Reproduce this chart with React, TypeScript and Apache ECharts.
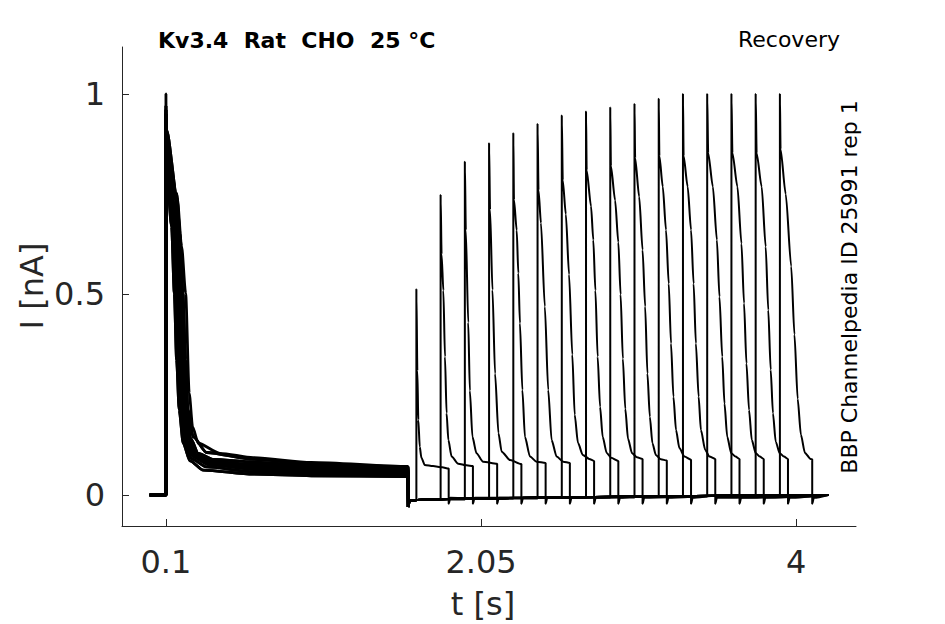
import React, { useEffect, useRef } from "react";
import * as echarts from "echarts";

// ---- data ----
const xTicks = [0.1, 2.05, 4];
const yTicks = [0, 0.5, 1];

// second (test) pulse onset times [s] and normalised peak currents, one per sweep
const testStarts = [1.65, 1.8, 1.95, 2.1, 2.25, 2.4, 2.55, 2.7, 2.85, 3.0, 3.15, 3.3, 3.45, 3.6, 3.75, 3.9];
const testPeaks = [0.513, 0.748, 0.831, 0.877, 0.902, 0.925, 0.946, 0.956, 0.966, 0.975, 0.988, 1.0, 1.0, 1.0, 1.0, 1.0];

// decay of each test pulse after its spike: [time after onset, current]
const testDecays = [
  [[0.006, 0.31], [0.012, 0.187], [0.021, 0.12], [0.031, 0.093], [0.052, 0.075], [0.103, 0.072], [0.16, 0.069], [0.2, 0.066]],
  [[0.006, 0.6], [0.017, 0.51], [0.027, 0.345], [0.037, 0.204], [0.048, 0.137], [0.068, 0.096], [0.109, 0.078], [0.16, 0.074], [0.2, 0.072]],
  [[0.006, 0.66], [0.021, 0.43], [0.031, 0.26], [0.047, 0.145], [0.072, 0.104], [0.113, 0.083], [0.2, 0.078]],
  [[0.006, 0.711], [0.021, 0.511], [0.037, 0.303], [0.058, 0.154], [0.078, 0.108], [0.13, 0.087], [0.2, 0.077]],
  [[0.004, 0.736], [0.021, 0.66], [0.031, 0.553], [0.041, 0.428], [0.056, 0.262], [0.072, 0.145], [0.103, 0.096], [0.144, 0.083], [0.2, 0.08]],
  [[0.006, 0.76], [0.021, 0.678], [0.045, 0.47], [0.066, 0.262], [0.087, 0.137], [0.118, 0.096], [0.159, 0.083], [0.2, 0.08]],
  [[0.006, 0.785], [0.025, 0.7], [0.045, 0.55], [0.065, 0.35], [0.08, 0.2], [0.1, 0.13], [0.13, 0.1], [0.17, 0.09], [0.2, 0.085]],
  [[0.004, 0.81], [0.031, 0.72], [0.045, 0.636], [0.058, 0.51], [0.072, 0.345], [0.087, 0.22], [0.103, 0.145], [0.128, 0.105], [0.155, 0.093], [0.2, 0.085]],
  [[0.004, 0.82], [0.03, 0.735], [0.05, 0.63], [0.064, 0.5], [0.078, 0.34], [0.093, 0.215], [0.11, 0.14], [0.135, 0.104], [0.165, 0.094], [0.2, 0.09]],
  [[0.004, 0.84], [0.029, 0.744], [0.05, 0.611], [0.066, 0.47], [0.08, 0.303], [0.095, 0.195], [0.111, 0.129], [0.132, 0.1], [0.163, 0.089], [0.2, 0.086]],
  [[0.004, 0.845], [0.025, 0.769], [0.045, 0.661], [0.062, 0.527], [0.076, 0.378], [0.091, 0.245], [0.107, 0.162], [0.128, 0.117], [0.159, 0.096], [0.2, 0.088]],
  [[0.004, 0.845], [0.029, 0.769], [0.05, 0.661], [0.066, 0.527], [0.08, 0.378], [0.097, 0.245], [0.111, 0.162], [0.138, 0.112], [0.163, 0.096], [0.2, 0.09]],
  [[0.006, 0.853], [0.035, 0.769], [0.06, 0.636], [0.076, 0.494], [0.093, 0.345], [0.107, 0.228], [0.124, 0.145], [0.149, 0.104], [0.175, 0.096], [0.2, 0.09]],
  [[0.006, 0.853], [0.037, 0.769], [0.062, 0.627], [0.078, 0.478], [0.093, 0.328], [0.109, 0.212], [0.126, 0.137], [0.151, 0.104], [0.175, 0.096], [0.2, 0.09]],
  [[0.006, 0.852], [0.037, 0.769], [0.062, 0.619], [0.078, 0.461], [0.093, 0.312], [0.107, 0.204], [0.124, 0.133], [0.149, 0.104], [0.175, 0.096], [0.2, 0.09]],
  [[0.004, 0.862], [0.036, 0.75], [0.07, 0.57], [0.09, 0.4], [0.11, 0.24], [0.13, 0.15], [0.155, 0.105], [0.19, 0.09], [0.2, 0.089]],
];

// conditioning-pulse peak per sweep
const condPeaks = [0.96, 0.94, 0.95, 0.93, 0.97, 0.94, 0.95, 0.96, 1.0, 0.93, 0.95, 0.94, 0.96, 0.95, 0.94, 0.97];

// conditioning-pulse decay traces (band of overlapping sweeps): [time, current]
const condA = [[0.101, 0.86], [0.104, 0.81], [0.135, 0.669], [0.152, 0.503], [0.166, 0.337], [0.182, 0.212], [0.207, 0.129], [0.249, 0.085], [0.331, 0.062], [0.64, 0.052], [1.0, 0.048], [1.598, 0.046]];
const condB = [[0.101, 0.88], [0.104, 0.84], [0.14, 0.68], [0.16, 0.51], [0.175, 0.34], [0.19, 0.215], [0.215, 0.13], [0.26, 0.09], [0.35, 0.07], [0.64, 0.058], [1.0, 0.053], [1.598, 0.05]];
const condC = [[0.101, 0.89], [0.104, 0.86], [0.145, 0.69], [0.168, 0.51], [0.183, 0.34], [0.198, 0.215], [0.222, 0.135], [0.27, 0.095], [0.36, 0.076], [0.64, 0.064], [1.0, 0.058], [1.598, 0.054]];
const condD = [[0.101, 0.9], [0.104, 0.87], [0.15, 0.7], [0.176, 0.51], [0.192, 0.34], [0.207, 0.215], [0.232, 0.135], [0.28, 0.097], [0.37, 0.08], [0.64, 0.07], [1.0, 0.063], [1.598, 0.058]];
const condE = [[0.101, 0.91], [0.104, 0.885], [0.155, 0.715], [0.185, 0.51], [0.202, 0.34], [0.216, 0.215], [0.24, 0.14], [0.29, 0.1], [0.38, 0.084], [0.64, 0.076], [1.0, 0.068], [1.598, 0.062]];
const condF = [[0.101, 0.915], [0.104, 0.9], [0.16, 0.735], [0.195, 0.505], [0.212, 0.338], [0.226, 0.213], [0.252, 0.142], [0.3, 0.104], [0.39, 0.089], [0.64, 0.082], [1.0, 0.073], [1.598, 0.066]];
const condG = [[0.101, 0.92], [0.104, 0.91], [0.166, 0.752], [0.187, 0.653], [0.205, 0.503], [0.222, 0.337], [0.236, 0.212], [0.269, 0.145], [0.352, 0.106], [0.64, 0.089], [1.0, 0.078], [1.598, 0.07]];
const condH = [[0.101, 0.9], [0.104, 0.88], [0.17, 0.74], [0.197, 0.62], [0.222, 0.503], [0.244, 0.254], [0.265, 0.17], [0.3, 0.129], [0.434, 0.104], [0.64, 0.093], [1.0, 0.081], [1.598, 0.071]];
const condTraces = [condA, condB, condC, condD, condE, condF, condG, condH];
const condVariant = [7, 6, 5, 4, 3, 2, 1, 0, 0, 1, 2, 3, 4, 5, 6, 3];

// holding baseline before the conditioning pulse and after it
const preBase = [[0, 0], [0.1, 0]];
const postBase = [[1.6, -0.03], [1.61, -0.014], [1.7, -0.011], [2.0, -0.009], [2.5, -0.006], [3.0, -0.004], [3.5, -0.002], [4.2, 0.0]];
// tail after each test pulse ends: [time after end, current]
const tailSteps = [[0, -0.022], [0.01, -0.007]];

// first part of a sweep: holding level and conditioning pulse
const buildConditioning = (k: number) => {
  const pts: number[][] = [];
  preBase.forEach((p) => pts.push(p));
  pts.push([0.1, condPeaks[k]]);
  condTraces[condVariant[k]].forEach((p) => pts.push(p));
  pts.push(postBase[0]);
  return pts;
};

// second part of a sweep: recovery interval, test pulse and tail
const buildTest = (k: number) => {
  const pts: number[][] = [];
  const ts = testStarts[k];
  let last = postBase[0][1];
  postBase.forEach((p) => {
    if (p[0] < ts) {
      pts.push(p);
      last = p[1];
    }
  });
  pts.push([ts, last]);
  pts.push([ts, testPeaks[k]]);
  testDecays[k].forEach(([dt, v]) => pts.push([ts + dt, v]));
  const te = ts + 0.2;
  tailSteps.forEach(([dt, v]) => pts.push([te + dt, v]));
  postBase.forEach((p) => {
    if (p[0] > te + tailSteps[tailSteps.length - 1][0]) pts.push(p);
  });
  return pts;
};

const FONT = "DejaVu Sans";
const AXIS_COLOR = "#262626";

export default function App() {
  const ref = useRef<HTMLDivElement>(null);
  useEffect(() => {
    if (!ref.current) return;
    const chart = echarts.init(ref.current, undefined, { renderer: "svg" });
    const lineBase = {
      type: "line",
      showSymbol: false,
      symbol: "none",
      silent: true,
      smooth: 0.25,
      smoothMonotone: "x",
      z: 3,
    };
    const series: any[] = [];
    testStarts.forEach((_, k) => {
      series.push({ ...lineBase, data: buildConditioning(k), lineStyle: { color: "#000", width: 2.8 } });
      series.push({ ...lineBase, data: buildTest(k), lineStyle: { color: "#000", width: 2 } });
    });
    chart.setOption({
      animation: false,
      backgroundColor: "#fff",
      grid: { left: 122, right: 89, top: 47, bottom: 98, containLabel: false },
      xAxis: {
        type: "value",
        min: -0.172,
        max: 4.371,
        axisLine: { show: true, onZero: false, lineStyle: { color: AXIS_COLOR, width: 1 } },
        axisTick: { show: true, inside: true, length: 7, customValues: xTicks, lineStyle: { color: AXIS_COLOR } },
        axisLabel: {
          customValues: xTicks,
          fontSize: 32,
          fontFamily: FONT,
          color: AXIS_COLOR,
          margin: 20,
          formatter: (v: number) => String(v),
        },
        splitLine: { show: false },
      },
      yAxis: {
        type: "value",
        min: -0.0773,
        max: 1.117,
        axisLine: { show: true, onZero: false, lineStyle: { color: AXIS_COLOR, width: 1 } },
        axisTick: { show: true, inside: true, length: 7, customValues: yTicks, lineStyle: { color: AXIS_COLOR } },
        axisLabel: {
          customValues: yTicks,
          fontSize: 32,
          fontFamily: FONT,
          color: AXIS_COLOR,
          margin: 17,
          formatter: (v: number) => String(v),
        },
        splitLine: { show: false },
      },
      graphic: [
        {
          type: "text",
          x: 158,
          y: 40,
          style: {
            text: "Kv3.4  Rat  CHO  25 °C",
            fontFamily: FONT,
            fontWeight: "bold",
            fontSize: 22,
            fill: "#000",
            textAlign: "left",
            textVerticalAlign: "middle",
          },
        },
        {
          type: "text",
          x: 840,
          y: 39,
          style: {
            text: "Recovery",
            fontFamily: FONT,
            fontSize: 22,
            fill: "#000",
            textAlign: "right",
            textVerticalAlign: "middle",
          },
        },
        {
          type: "text",
          x: 849,
          y: 287,
          rotation: Math.PI / 2,
          style: {
            text: "BBP Channelpedia ID 25991 rep 1",
            fontFamily: FONT,
            fontSize: 22,
            fill: "#000",
            textAlign: "center",
            textVerticalAlign: "middle",
          },
        },
        {
          type: "text",
          x: 483,
          y: 604,
          style: {
            text: "t [s]",
            fontFamily: FONT,
            fontSize: 32,
            fill: AXIS_COLOR,
            textAlign: "center",
            textVerticalAlign: "middle",
          },
        },
        {
          type: "text",
          x: 32,
          y: 286,
          rotation: Math.PI / 2,
          style: {
            text: "I [nA]",
            fontFamily: FONT,
            fontSize: 32,
            fill: AXIS_COLOR,
            textAlign: "center",
            textVerticalAlign: "middle",
          },
        },
      ],
      series,
    });
    return () => chart.dispose();
  }, []);
  return <div ref={ref} style={{ position: "fixed", left: 0, top: 0, width: 945, height: 624 }} />;
}
